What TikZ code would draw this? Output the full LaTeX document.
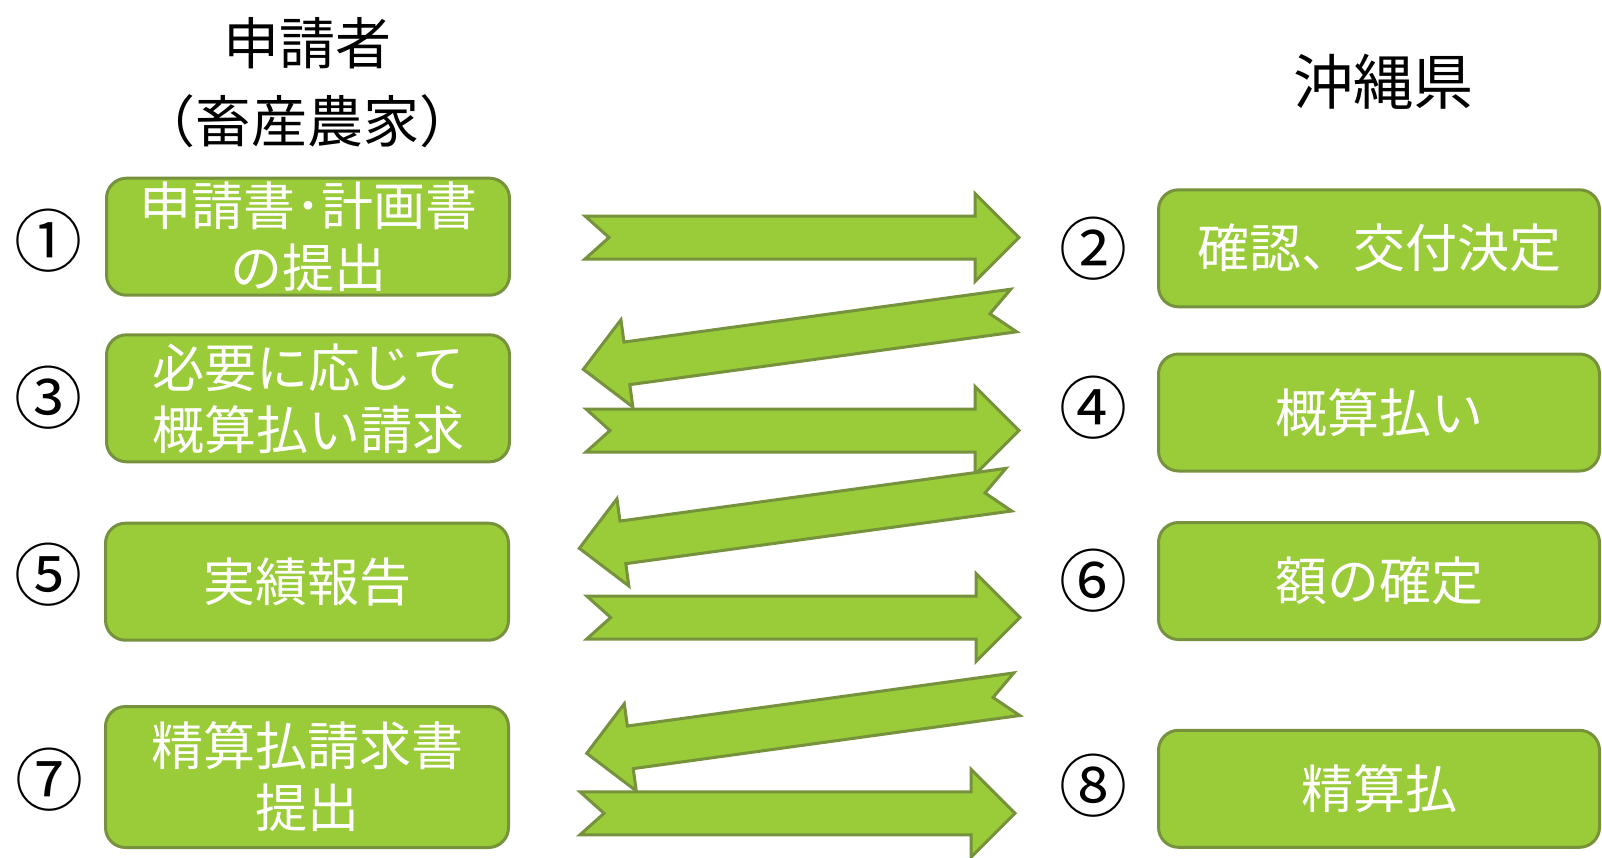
\documentclass[tikz,border=0pt]{standalone}
\usepackage{fontspec}
\newfontfamily\jp{Noto Sans CJK JP}
\usetikzlibrary{calc}

\definecolor{boxgreen}{RGB}{154,203,57}
\definecolor{boxedge}{RGB}{118,146,60}

\tikzset{
  stepbox/.style={rectangle,rounded corners=20pt,draw=boxedge,fill=boxgreen,line width=3pt,
    text=white,align=center,inner sep=0pt,font=\jp\fontsize{52}{62}\selectfont},
  leftbox/.style={stepbox,minimum width=403pt},
  rightbox/.style={stepbox,minimum width=441pt,minimum height=117pt},
  stepno/.style={inner sep=0pt,font=\jp\fontsize{68}{68}\selectfont},
  headline/.style={inner sep=0pt,align=center,font=\jp\fontsize{56}{78}\selectfont},
  flowarrow/.style={draw=boxedge,fill=boxgreen,line width=3pt,line join=miter}
}

% notched block arrow from #1 (tail) to #2 (tip)
\newcommand{\bigarrow}[2]{%
  \coordinate (hb) at ($(#2)!44pt!(#1)$);
  \filldraw[flowarrow] ($(#1)!21.5pt!90:(#2)$) -- ($(hb)!21.5pt!90:(#2)$) -- ($(hb)!44pt!90:(#2)$)
    -- (#2) -- ($(hb)!44pt!-90:(#2)$) -- ($(hb)!21.5pt!-90:(#2)$) -- ($(#1)!21.5pt!-90:(#2)$)
    -- ($(#1)!24pt!(#2)$) -- cycle;
}

\begin{document}
\begin{tikzpicture}[x=1pt,y=-1pt]
\useasboundingbox (0,0) rectangle (1602,857);

\node[headline] (applicant) at (307,83) {申請者\\（畜産農家）};
\node[headline,font=\jp\fontsize{60}{60}\selectfont] (pref) at (1383,82) {沖縄県};

% applicant side
\node[leftbox,minimum height=117pt] (apply) at (308,236.7) {申請書･計画書\\の提出};
\node[leftbox,minimum height=127pt] (advreq) at (308,398.3) {必要に応じて\\概算払い請求};
\node[leftbox,minimum height=117pt] (report) at (307,581.7) {実績報告};
\node[leftbox,minimum height=141pt] (finalreq) at (307,777) {精算払請求書\\提出};
\node[stepno] (n1) at (48,241) {①};
\node[stepno] (n3) at (48,398) {③};
\node[stepno] (n5) at (48,575) {⑤};
\node[stepno] (n7) at (50,780) {⑦};

% prefecture side
\node[rightbox] (approve) at (1379,248.3) {確認、交付決定};
\node[rightbox] (advpay) at (1379,412.5) {概算払い};
\node[rightbox] (fix) at (1379,581) {額の確定};
\node[rightbox] (finalpay) at (1379,788.8) {精算払};
\node[stepno] (n2) at (1093,249) {②};
\node[stepno] (n4) at (1093,408) {④};
\node[stepno] (n6) at (1093,581) {⑥};
\node[stepno] (n8) at (1093,786) {⑧};

\coordinate (s1) at (585,237.5);   \coordinate (e1) at (1019,237.5);
\coordinate (s2) at (1013.7,310.5); \coordinate (e2) at (583.3,369.3);
\coordinate (s3) at (586,430.5);   \coordinate (e3) at (1019,430.5);
\coordinate (s4) at (1008.8,489.7); \coordinate (e4) at (579.3,548.3);
\coordinate (s5) at (586.7,617.5); \coordinate (e5) at (1020,617.5);
\coordinate (s6) at (1016.8,694.2); \coordinate (e6) at (586.7,753.3);
\coordinate (s7) at (580,813.3);   \coordinate (e7) at (1015,813.3);

\bigarrow{s1}{e1}
\bigarrow{s2}{e2}
\bigarrow{s3}{e3}
\bigarrow{s4}{e4}
\bigarrow{s5}{e5}
\bigarrow{s6}{e6}
\bigarrow{s7}{e7}
\end{tikzpicture}
\end{document}
